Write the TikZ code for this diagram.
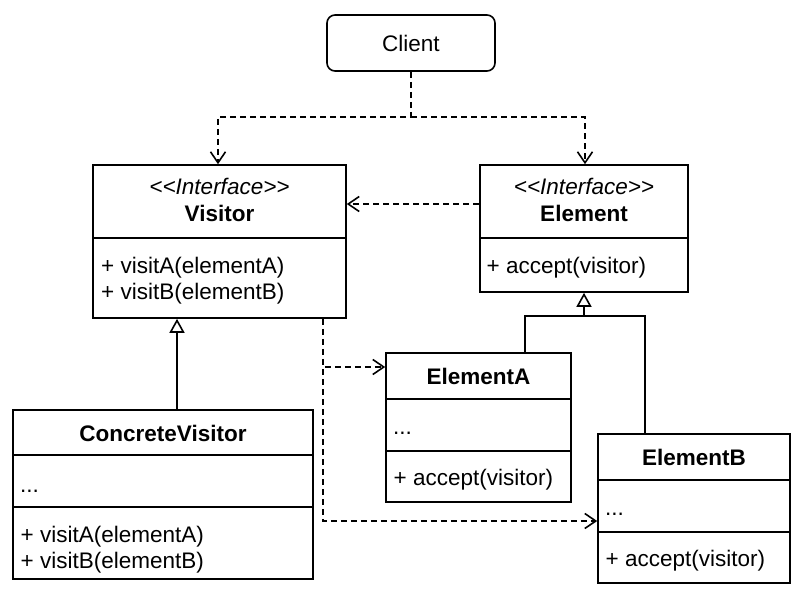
\documentclass[tikz,border=0pt]{standalone}
\usepackage{fontspec}
\setmainfont{Liberation Sans}
\usetikzlibrary{arrows.meta,calc}
\newcommand\stereotype[1]{\textit{<\kern0pt<#1>\kern0pt>}}

\begin{document}
\begin{tikzpicture}[x=1pt,y=-1pt,
    every node/.style={font=\fontsize{22.5}{26}\selectfont},
    classbox/.style={draw,line width=1.6pt,inner sep=0pt},
    txt/.style={inner sep=0pt,text height=16pt,text depth=0pt},
    title/.style={txt,font=\fontsize{22.5}{26}\selectfont\bfseries},
    member/.style={txt,anchor=west},
    dep/.style={line width=1.6pt,dash pattern=on 6pt off 4pt,-{Straight Barb[length=11pt,width=15pt,line width=1.6pt]}},
    inherit/.style={line width=1.6pt,-{Triangle[open,fill=white,length=14pt,width=15pt,line width=1.6pt]}}]
    \useasboundingbox (0,0) rectangle (811,600);

    \node [draw,line width=1.6pt,rounded corners=8pt,minimum width=168pt,minimum height=56pt] (client) at (411,43) {Client};

    % visitor side
    \node [classbox,minimum width=253pt,minimum height=153pt] (visitor) at (219.5,241.5) {};
    \node [txt] (visitor stereo) at (219.5,186) {\stereotype{Interface}};
    \node [title] (visitor name) at (219.5,213) {Visitor};
    \draw [line width=1.6pt] ([yshift=-74pt]visitor.north west) -- ([yshift=-74pt]visitor.north east);
    \node [member] (visitA) at (101,265) {+ visitA(elementA)};
    \node [member] (visitB) at (101,291) {+ visitB(elementB)};

    \node [classbox,minimum width=300pt,minimum height=169pt] (concrete) at (163,494.5) {};
    \node [title] (concrete name) at (163,433) {ConcreteVisitor};
    \draw [line width=1.6pt] ([yshift=-46pt]concrete.north west) -- ([yshift=-46pt]concrete.north east);
    \draw [line width=1.6pt] ([yshift=-98pt]concrete.north west) -- ([yshift=-98pt]concrete.north east);
    \node [member] (concrete attr) at (20,484.5) {...};
    \node [member] (concrete visitA) at (20.5,534) {+ visitA(elementA)};
    \node [member] (concrete visitB) at (20.5,560) {+ visitB(elementB)};

    % element side
    \node [classbox,minimum width=208pt,minimum height=127pt] (element) at (584,228.5) {};
    \node [txt] (element stereo) at (584,186) {\stereotype{Interface}};
    \node [title] (element name) at (584,213) {Element};
    \draw [line width=1.6pt] ([yshift=-74pt]element.north west) -- ([yshift=-74pt]element.north east);
    \node [member] (element accept) at (486.5,265) {+ accept(visitor)};

    \node [classbox,minimum width=185pt,minimum height=149pt] (elementA) at (478.5,427.5) {};
    \node [title] (elementA name) at (478.5,376) {ElementA};
    \draw [line width=1.6pt] ([yshift=-47pt]elementA.north west) -- ([yshift=-47pt]elementA.north east);
    \draw [line width=1.6pt] ([yshift=-99pt]elementA.north west) -- ([yshift=-99pt]elementA.north east);
    \node [member] (elementA attr) at (393,426.5) {...};
    \node [member] (elementA accept) at (393.5,477) {+ accept(visitor)};

    \node [classbox,minimum width=192pt,minimum height=149pt] (elementB) at (694,508.5) {};
    \node [title] (elementB name) at (694,457) {ElementB};
    \draw [line width=1.6pt] ([yshift=-47pt]elementB.north west) -- ([yshift=-47pt]elementB.north east);
    \draw [line width=1.6pt] ([yshift=-99pt]elementB.north west) -- ([yshift=-99pt]elementB.north east);
    \node [member] (elementB attr) at (605,507.5) {...};
    \node [member] (elementB accept) at (605.5,558) {+ accept(visitor)};

    % dependencies
    \coordinate (split) at (411,117);
    \draw [dep] (client.south) -- (split) -| ([xshift=-1.5pt]visitor.north);
    \draw [dep] (split) -| ([xshift=1pt]element.north);
    \draw [dep] ([yshift=24.5pt]element.west) -- ([yshift=24.5pt]element.west -| visitor.east);
    \coordinate (vout) at ([xshift=103.5pt]visitor.south);
    \draw [dep] (vout) |- ([yshift=60.5pt]elementA.west);
    \draw [dep] (vout) |- ([yshift=-12.5pt]elementB.west);

    % inheritance
    \coordinate (joint) at (584,316);
    \draw [line width=1.6pt] ([xshift=46.5pt]elementA.north) |- (joint);
    \draw [line width=1.6pt] ([xshift=-49pt]elementB.north) |- (joint);
    \draw [inherit] (joint) -- (element.south);
    \draw [inherit] ([xshift=14pt]concrete.north) -- ([xshift=14pt]concrete.north |- visitor.south);
\end{tikzpicture}
\end{document}
